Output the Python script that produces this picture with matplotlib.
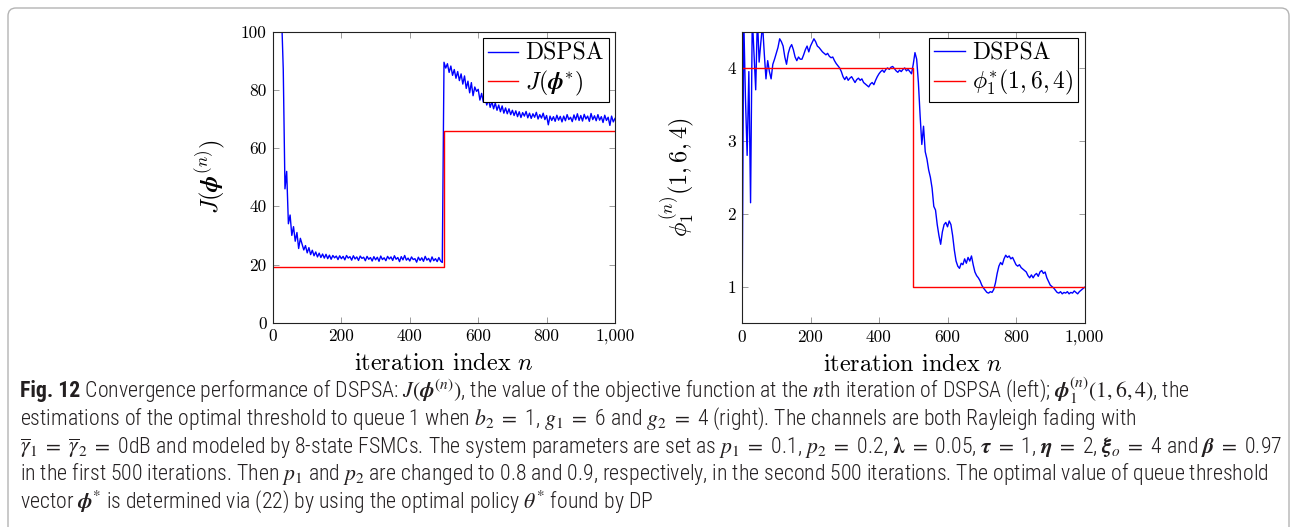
import numpy as np
import matplotlib
matplotlib.use("Agg")
import matplotlib.pyplot as plt
from matplotlib import font_manager
from matplotlib.patches import FancyBboxPatch
from matplotlib.transforms import IdentityTransform

# iteration grid (every 5th iteration)
ITER = np.arange(0, 1001, 5)

# J(phi^(n)) of DSPSA, left panel
J_DSPSA = [
    150, 140, 130, 120, 112, 106, 87, 46, 52, 34,
    37, 30, 33, 28, 31, 25.5, 29, 27, 25, 26.5,
    24, 25.8, 23.4, 24.9, 23, 24.3, 22.6, 23.9, 22.4, 23.6,
    22.2, 23.5, 22.0, 23.2, 21.8, 23.1, 22.3, 22.9, 21.7, 23.0,
    22.0, 22.8, 21.6, 23.1, 22.2, 22.7, 21.5, 23.0, 21.9, 22.6,
    21.4, 22.9, 22.1, 22.5, 21.3, 22.8, 21.8, 22.4, 21.2, 22.7,
    21.6, 22.5, 21.1, 22.9, 21.7, 22.3, 21.3, 22.8, 21.9, 22.6,
    21.4, 23.0, 21.8, 22.4, 21.0, 22.7, 21.6, 23.1, 21.5, 22.2,
    21.2, 22.6, 21.7, 22.0, 20.8, 22.5, 21.4, 22.3, 21.1, 22.8,
    21.5, 22.1, 20.9, 22.6, 21.3, 22.0, 21.0, 22.4, 21.2, 20.7,
    89.5, 87.5, 89.0, 86.0, 88.2, 85.0, 87.0, 84.0, 86.3, 83.2,
    85.5, 82.0, 84.8, 80.5, 83.0, 79.0, 82.5, 78.0, 81.0, 79.5,
    80.2, 76.5, 78.8, 75.8, 77.5, 74.8, 76.8, 74.0, 76.0, 73.5,
    75.5, 73.0, 74.8, 72.5, 74.5, 72.0, 73.8, 71.8, 73.5, 71.5,
    73.0, 71.2, 72.8, 70.8, 72.5, 70.5, 72.2, 71.0, 72.6, 70.4,
    72.0, 70.2, 71.8, 70.6, 72.3, 70.0, 71.5, 70.3, 72.0, 69.8,
    71.2, 68.0, 71.0, 69.5, 70.8, 69.2, 71.3, 69.6, 70.9, 69.0,
    71.0, 69.4, 71.5, 69.8, 70.6, 69.1, 71.4, 69.7, 71.8, 69.5,
    71.2, 69.3, 71.6, 70.0, 71.0, 69.2, 71.9, 69.8, 71.1, 69.4,
    71.5, 69.6, 70.8, 68.8, 71.3, 69.5, 70.6, 67.8, 71.0, 69.0,
    70.2,
]

# phi_1^(n)(1,6,4) of DSPSA, right panel
PHI_DSPSA = [
    0.3, 4.7, 3.6, 2.8, 3.95, 2.15, 4.7, 4.2, 3.7, 4.7,
    4.08, 4.35, 4.6, 4.2, 3.85, 4.1, 3.95, 3.85, 4.05, 4.12,
    4.2, 4.28, 4.4, 4.36, 4.3, 4.15, 4.05, 4.2, 4.28, 4.32,
    4.25, 4.15, 4.1, 4.15, 4.12, 4.12, 4.18, 4.25, 4.3, 4.22,
    4.3, 4.35, 4.4, 4.36, 4.3, 4.28, 4.25, 4.22, 4.2, 4.18,
    4.2, 4.16, 4.14, 4.15, 4.1, 4.06, 4.03, 4.0, 3.95, 3.88,
    3.84, 3.88, 3.83, 3.86, 3.88, 3.84, 3.8, 3.84, 3.86, 3.83,
    3.85, 3.8, 3.78, 3.76, 3.74, 3.78, 3.8, 3.77, 3.83, 3.88,
    3.92, 3.95, 3.97, 3.94, 3.98, 4.0, 3.98, 4.01, 4.02, 3.99,
    3.96, 3.94, 3.97, 3.95, 3.98, 4.0, 3.96, 3.98, 3.95, 3.92,
    4.05, 4.21, 4.12, 3.8, 3.35, 2.95, 3.2, 2.85, 2.75, 2.6,
    2.5, 2.35, 2.1, 2.05, 1.85, 1.7, 1.58, 1.75, 1.85, 1.88,
    1.82, 1.9, 1.85, 1.7, 1.5, 1.35, 1.28, 1.25, 1.32, 1.3,
    1.38, 1.32, 1.4, 1.35, 1.42, 1.3, 1.2, 1.15, 1.12, 1.08,
    1.02, 0.98, 0.95, 0.92, 0.91, 0.93, 0.92, 0.96, 1.05, 1.18,
    1.28, 1.33, 1.3, 1.38, 1.43, 1.4, 1.42, 1.38, 1.4, 1.35,
    1.3, 1.28, 1.3, 1.26, 1.24, 1.22, 1.2, 1.15, 1.12, 1.16,
    1.12, 1.16, 1.18, 1.14, 1.2, 1.22, 1.18, 1.2, 1.12, 1.07,
    1.02, 1.0, 0.98, 0.95, 0.92, 0.91, 0.93, 0.9, 0.92, 0.91,
    0.93, 0.9, 0.92, 0.91, 0.94, 0.92, 0.9, 0.93, 0.95, 0.97,
    0.99,
]

# optimal values before / after the parameter switch
SWITCH_N = 500
N_END = 1000
J_OPT = [19, 66]
PHI_OPT = [4, 1]

X_TICKS = [0, 200, 400, 600, 800, 1000]
X_TICKLABELS = ["0", "200", "400", "600", "800", "1,000"]
J_TICKS = [0, 20, 40, 60, 80, 100]
PHI_TICKS = [1, 2, 3, 4]

EQ = " $=$ "
CAPTION = [
    [("Fig. 12", "bold"), (" Convergence performance of DSPSA: $J(\\boldsymbol{\\phi}^{(n)})$, the value of the objective "
                           "function at the $n$th iteration of DSPSA (left); $\\boldsymbol{\\phi}_1^{(n)}(1,6,4)$, the", "light")],
    [("estimations of the optimal threshold to queue 1 when $b_2$" + EQ + "1, $g_1$" + EQ + "6 and $g_2$" + EQ + "4 (right). "
      "The channels are both Rayleigh fading with", "light")],
    [("$\\overline{\\gamma}_1$" + EQ + "$\\overline{\\gamma}_2$" + EQ + "0dB and modeled by 8-state FSMCs. "
      "The system parameters are set as $p_1$" + EQ + "0.1, $p_2$" + EQ + "0.2, $\\boldsymbol{\\lambda}$" + EQ + "0.05, "
      "$\\boldsymbol{\\tau}$" + EQ + "1, $\\boldsymbol{\\eta}$" + EQ + "2, $\\boldsymbol{\\xi}_o$" + EQ + "4 and "
      "$\\boldsymbol{\\beta}$" + EQ + "0.97", "light")],
    [("in the first 500 iterations. Then $p_1$ and $p_2$ are changed to 0.8 and 0.9, respectively, in the second 500 "
      "iterations. The optimal value of queue threshold", "light")],
    [("vector $\\boldsymbol{\\phi}^{*}$ is determined via (22) by using the optimal policy $\\theta^{*}$ found by DP", "light")],
]
CAPTION_BASELINES = [397.5, 425, 452.5, 480, 507.5]
# right ends of the first four caption lines in the figure (px)
CAPTION_RIGHTS = [1203, 1148, 1277, 1277]

plt.rcParams["font.family"] = "serif"
plt.rcParams["font.serif"] = ["cmr10"]
plt.rcParams["mathtext.fontset"] = "cm"
plt.rcParams["axes.unicode_minus"] = False

avail = {f.name for f in font_manager.fontManager.ttflist}
CAP_FONT = next((f for f in ["Liberation Sans Narrow", "Roboto Condensed", "Lato", "Open Sans", "DejaVu Sans"]
                 if f in avail))

W, H = 1292, 527
fig = plt.figure(figsize=(W / 100, H / 100), dpi=100)


def rect(x0, y0, x1, y1):
    return [x0 / W, 1 - y1 / H, (x1 - x0) / W, (y1 - y0) / H]


ax1 = fig.add_axes(rect(273, 31.7, 615, 322.7))
ax2 = fig.add_axes(rect(742, 31.5, 1084.5, 323))

panels = [
    (ax1, J_DSPSA, J_OPT, (0, 100), J_TICKS, r"$J(\boldsymbol{\phi}^{(n)})$", r"$J(\boldsymbol{\phi}^{*})$", -0.135),
    (ax2, PHI_DSPSA, PHI_OPT, (0.5, 4.5), PHI_TICKS, r"$\phi_1^{(n)}(1,6,4)$", r"$\phi_1^{*}(1,6,4)$", -0.131),
]

for ax, dspsa, opt, ylim, yticks, ylab, optlab, ylab_x in panels:
    ax.plot(ITER, dspsa, color="#0000ff", lw=1.0, label="DSPSA")
    ax.step([0, SWITCH_N, N_END], [opt[0], opt[1], opt[1]], where="post",
            color="#ff0000", lw=1.0, label=optlab)
    ax.set_xlim(0, N_END)
    ax.set_ylim(*ylim)
    ax.set_xticks(X_TICKS)
    ax.set_xticklabels(X_TICKLABELS)
    ax.set_yticks(yticks)
    ax.set_yticklabels([str(t) for t in yticks])
    ax.tick_params(direction="in", length=4, width=0.6, color="#8c8c8c",
                   top=True, right=True, labelsize=12.5, pad=4.5)
    for sp in ax.spines.values():
        sp.set_linewidth(0.8)
        sp.set_color("#222222")
    ax.set_xlabel(r"iteration index $n$", fontsize=17.5)
    ax.xaxis.set_label_coords(0.5, -0.105)
    ax.set_ylabel(ylab, fontsize=17.5)
    ax.yaxis.set_label_coords(ylab_x, 0.5)
    leg = ax.legend(loc="upper right", fontsize=17, frameon=True, fancybox=False,
                    edgecolor="black", framealpha=1, borderaxespad=0.27,
                    handlelength=1.3, borderpad=0.2, labelspacing=0.15, handletextpad=0.3)
    leg.get_frame().set_linewidth(0.8)

# caption box with rounded corners, bottom runs off the picture
fig.patches.append(FancyBboxPatch((8, -30), 1281, H - 8 + 30, boxstyle="round,pad=0,rounding_size=8",
                                  transform=IdentityTransform(), facecolor="none",
                                  edgecolor="#b4b4b4", lw=1.0, figure=fig))

renderer = fig.canvas.get_renderer()
X0 = 20


def draw_caption(size):
    texts, rights = [], []
    for parts, yb in zip(CAPTION, CAPTION_BASELINES):
        x = X0
        for s, w in parts:
            t = fig.text(x / W, 1 - yb / H, s, fontsize=size, fontweight=w, family=CAP_FONT,
                         math_fontfamily="stix", va="baseline", ha="left", color="#231f20")
            texts.append(t)
            x = t.get_window_extent(renderer).x1
        rights.append(x)
    return texts, rights


# fit the caption font size to the line lengths of the figure
size = 10
texts, rights = draw_caption(size)
for t in texts:
    t.remove()
ratios = [(r_ref - X0) / (r - X0) for r_ref, r in zip(CAPTION_RIGHTS, rights[:4])]
limit = min((1282 - X0) / (r - X0) for r in rights[:4])
size = size * min(np.mean(ratios), limit)
draw_caption(size)

fig.savefig("out.png", dpi=100)
